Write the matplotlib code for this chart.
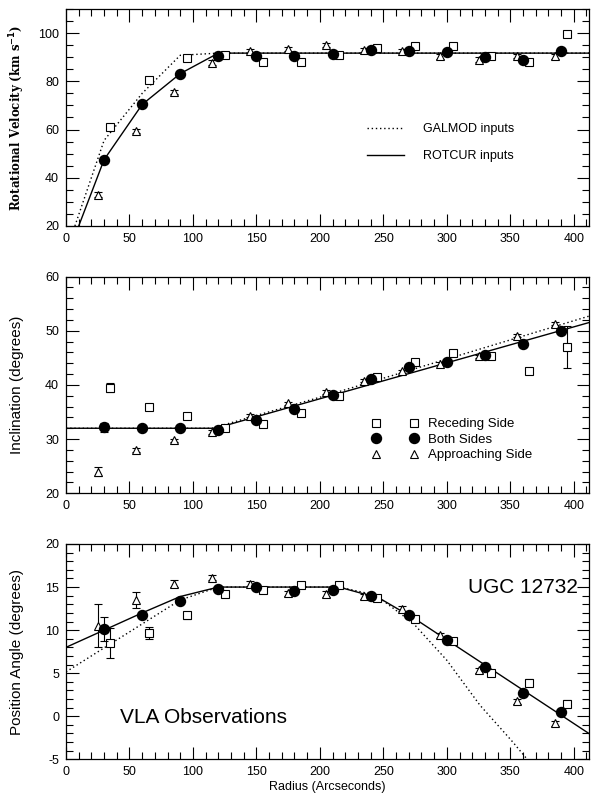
import matplotlib
matplotlib.use('Agg')
import matplotlib.pyplot as plt
from matplotlib.ticker import MultipleLocator
from matplotlib.lines import Line2D

plt.rcParams['font.family'] = ['Liberation Sans', 'DejaVu Sans']
plt.rcParams['axes.unicode_minus'] = False

# ---------------- Rotational velocity ----------------
vel_both_r = [30, 60, 90, 120, 150, 180, 210, 240, 270, 300, 330, 360, 390]
vel_both = [47.5, 70.4, 83.2, 90.3, 90.5, 90.5, 91.5, 93, 92.5, 92, 90, 89, 92.5]
vel_both_err = [0.5] * 13
vel_rec_r = [35, 65, 95, 125, 155, 185, 215, 245, 275, 305, 335, 365, 395]
vel_rec = [61, 80.5, 89.5, 91, 88, 88, 91, 94, 94.5, 94.5, 90.5, 88, 99.5]
vel_rec_err = [1.3, 1.0, 0.9, 0.9, 0.9, 0.9, 0.9, 0.9, 0.9, 0.9, 0.9, 0.9, 0.9]
vel_app_r = [25, 55, 85, 115, 145, 175, 205, 235, 265, 295, 325, 355, 385]
vel_app = [33, 59.3, 75.7, 87.8, 92.5, 93.3, 95, 93, 92.6, 90.3, 89, 90.5, 90.3]
vel_app_err = [0.9] * 13
vel_galmod_r = [7, 30, 60, 90, 120, 415]
vel_galmod = [20, 55.5, 75, 90.8, 91.7, 91.7]
vel_rotcur_r = [10, 30, 60, 90, 120, 415]
vel_rotcur = [20, 47.5, 70.4, 83.2, 91.7, 91.7]

# ---------------- Inclination ----------------
inc_both_r = [30, 60, 90, 120, 150, 180, 210, 240, 270, 300, 330, 360, 390]
inc_both = [32.2, 32.1, 32.0, 31.6, 33.6, 35.5, 38.2, 41.1, 43.3, 44.2, 45.6, 47.6, 49.9]
inc_both_err = [0.8, 0.2, 0.2, 0.2, 0.2, 0.2, 0.2, 0.2, 0.2, 0.2, 0.2, 0.2, 0.2]
inc_rec_r = [35, 65, 95, 125, 155, 185, 215, 245, 275, 305, 335, 365, 395]
inc_rec = [39.5, 36.0, 34.2, 32.1, 32.8, 34.8, 37.9, 41.4, 44.2, 45.9, 45.3, 42.5, 47.0]
inc_rec_err = [0.8, 0.4, 0.4, 0.3, 0.3, 0.3, 0.3, 0.3, 0.4, 0.4, 0.3, 0.4, 3.8]
inc_app_r = [25, 55, 85, 115, 145, 175, 205, 235, 265, 295, 325, 355, 385]
inc_app = [24.0, 28.0, 29.8, 31.3, 34.3, 36.6, 38.7, 40.8, 42.5, 43.9, 45.3, 49.1, 51.3]
inc_app_err = [0.8, 0.3, 0.3, 0.3, 0.3, 0.3, 0.3, 0.3, 0.3, 0.3, 0.3, 0.3, 0.3]
inc_galmod_r = [0, 115, 210, 415]
inc_galmod = [32, 32, 38.4, 52.9]
inc_rotcur_r = [0, 118, 415]
inc_rotcur = [32, 32, 51.7]

# ---------------- Position angle ----------------
pa_both_r = [30, 60, 90, 120, 150, 180, 210, 240, 270, 300, 330, 360, 390]
pa_both = [10.1, 11.8, 13.4, 14.8, 15.0, 14.6, 14.7, 13.95, 11.8, 8.8, 5.7, 2.7, 0.5]
pa_both_err = [1.4, 0.3, 0.3, 0.2, 0.2, 0.2, 0.2, 0.2, 0.2, 0.2, 0.2, 0.2, 0.2]
pa_rec_r = [35, 65, 95, 125, 155, 185, 215, 245, 275, 305, 335, 365, 395]
pa_rec = [8.5, 9.7, 11.7, 14.2, 14.65, 15.2, 15.2, 13.7, 11.3, 8.7, 5.0, 3.9, 1.45]
pa_rec_err = [1.7, 0.7, 0.4, 0.3, 0.3, 0.3, 0.3, 0.3, 0.3, 0.3, 0.3, 0.4, 0.4]
pa_app_r = [25, 55, 85, 115, 145, 175, 205, 235, 265, 295, 325, 355, 385]
pa_app = [10.5, 13.5, 15.4, 16.1, 15.4, 14.3, 14.2, 13.95, 12.5, 9.4, 5.35, 1.75, -0.8]
pa_app_err = [2.5, 0.9, 0.4, 0.3, 0.3, 0.3, 0.3, 0.3, 0.3, 0.3, 0.3, 0.3, 0.3]
pa_galmod_r = [0, 90, 120, 215, 240, 250, 273.5, 300, 326, 352, 365]
pa_galmod = [5.15, 13.5, 15.0, 15.0, 14.2, 13.4, 10.8, 6.5, 1.3, -3.0, -5.3]
pa_rotcur_r = [0, 60, 90, 120, 215, 247, 276, 415]
pa_rotcur = [8.0, 12.0, 13.9, 15.0, 15.0, 13.7, 11.2, -2.3]

legend_sides = ['Receding Side', 'Both Sides', 'Approaching Side']
legend_models = ['GALMOD inputs', 'ROTCUR inputs']

W, H = 591, 797
fig = plt.figure(figsize=(W / 100, H / 100), dpi=100)

def frac(l, t, r, b):
    return [l / W, 1 - b / H, (r - l) / W, (b - t) / H]

ax1 = fig.add_axes(frac(66, 9, 589, 226))
ax2 = fig.add_axes(frac(66, 276.5, 589, 493.3))
ax3 = fig.add_axes(frac(66, 544, 589, 759.3))

ebkw = dict(ecolor='black', elinewidth=0.8, capsize=3.2, capthick=0.8, linestyle='none')

def draw(ax, rr, rv, re, br, bv, be, ar, av, ae, gr, gv, cr, cv):
    ax.plot(gr, gv, color='black', linestyle=(0, (1, 2)), linewidth=1.0, zorder=2)
    ax.plot(cr, cv, color='black', linestyle='-', linewidth=1.0, zorder=2)
    ax.errorbar(rr, rv, yerr=re, fmt='s', ms=5.2, mfc='white', mec='black', mew=0.8, zorder=3, **ebkw)
    ax.errorbar(ar, av, yerr=ae, fmt='^', ms=5.8, mfc='white', mec='black', mew=0.8, zorder=3, **ebkw)
    ax.errorbar(br, bv, yerr=be, fmt='o', ms=7.2, mfc='black', mec='black', zorder=4, **ebkw)

draw(ax1, vel_rec_r, vel_rec, vel_rec_err, vel_both_r, vel_both, vel_both_err,
     vel_app_r, vel_app, vel_app_err, vel_galmod_r, vel_galmod, vel_rotcur_r, vel_rotcur)
draw(ax2, inc_rec_r, inc_rec, inc_rec_err, inc_both_r, inc_both, inc_both_err,
     inc_app_r, inc_app, inc_app_err, inc_galmod_r, inc_galmod, inc_rotcur_r, inc_rotcur)
draw(ax3, pa_rec_r, pa_rec, pa_rec_err, pa_both_r, pa_both, pa_both_err,
     pa_app_r, pa_app, pa_app_err, pa_galmod_r, pa_galmod, pa_rotcur_r, pa_rotcur)

def style(ax, ylim, ymaj, ymin):
    ax.set_xlim(0, 412)
    ax.set_ylim(*ylim)
    ax.xaxis.set_major_locator(MultipleLocator(50))
    ax.xaxis.set_minor_locator(MultipleLocator(10))
    ax.yaxis.set_major_locator(MultipleLocator(ymaj))
    ax.yaxis.set_minor_locator(MultipleLocator(ymin))
    ax.tick_params(which='both', direction='in', top=True, right=True, width=0.8)
    ax.tick_params(which='major', length=9, labelsize=9, pad=5)
    ax.tick_params(which='minor', length=5)
    for s in ax.spines.values():
        s.set_linewidth(0.9)

style(ax1, (20, 110), 20, 5)
style(ax2, (20, 60), 10, 2)
style(ax3, (-5, 20), 5, 1)

ax1.set_ylabel('Rotational Velocity (km s$^{\\mathbf{-1}}$)', fontsize=8.5,
               family='DejaVu Serif', fontweight='bold', labelpad=8)
narrow = dict(fontsize=11, family='Liberation Sans', labelpad=15)
ax2.set_ylabel('Inclination (degrees)', **narrow)
ax3.set_ylabel('Position Angle (degrees)', **narrow)
ax3.set_xlabel('Radius (Arcseconds)', fontsize=9, labelpad=2)

# legends
h_models = [Line2D([], [], color='black', linestyle=(0, (1, 2)), linewidth=1.0),
            Line2D([], [], color='black', linestyle='-', linewidth=1.0)]
ax1.legend(h_models, legend_models, loc='upper left', bbox_to_anchor=(0.575, 0.475),
           frameon=False, fontsize=9, handlelength=3.0, handletextpad=1.5,
           labelspacing=1.2, borderpad=0, borderaxespad=0)

h_sides = [Line2D([], [], linestyle='none', marker='s', ms=5.2, mfc='white', mec='black', mew=0.8),
           Line2D([], [], linestyle='none', marker='o', ms=7.2, mfc='black', mec='black'),
           Line2D([], [], linestyle='none', marker='^', ms=5.8, mfc='white', mec='black', mew=0.8)]
ax2.legend(h_sides, legend_sides, loc='upper left', bbox_to_anchor=(0.586, 0.347),
           frameon=False, fontsize=9.5, numpoints=2, handlelength=3.44, handletextpad=0.75,
           labelspacing=0.25, borderpad=0, borderaxespad=0)

ax3.text(0.979, 0.797, 'UGC 12732', transform=ax3.transAxes, ha='right', va='center', fontsize=15)
ax3.text(0.103, 0.194, 'VLA Observations', transform=ax3.transAxes, ha='left', va='center', fontsize=15)

fig.savefig('out.png', dpi=100)
